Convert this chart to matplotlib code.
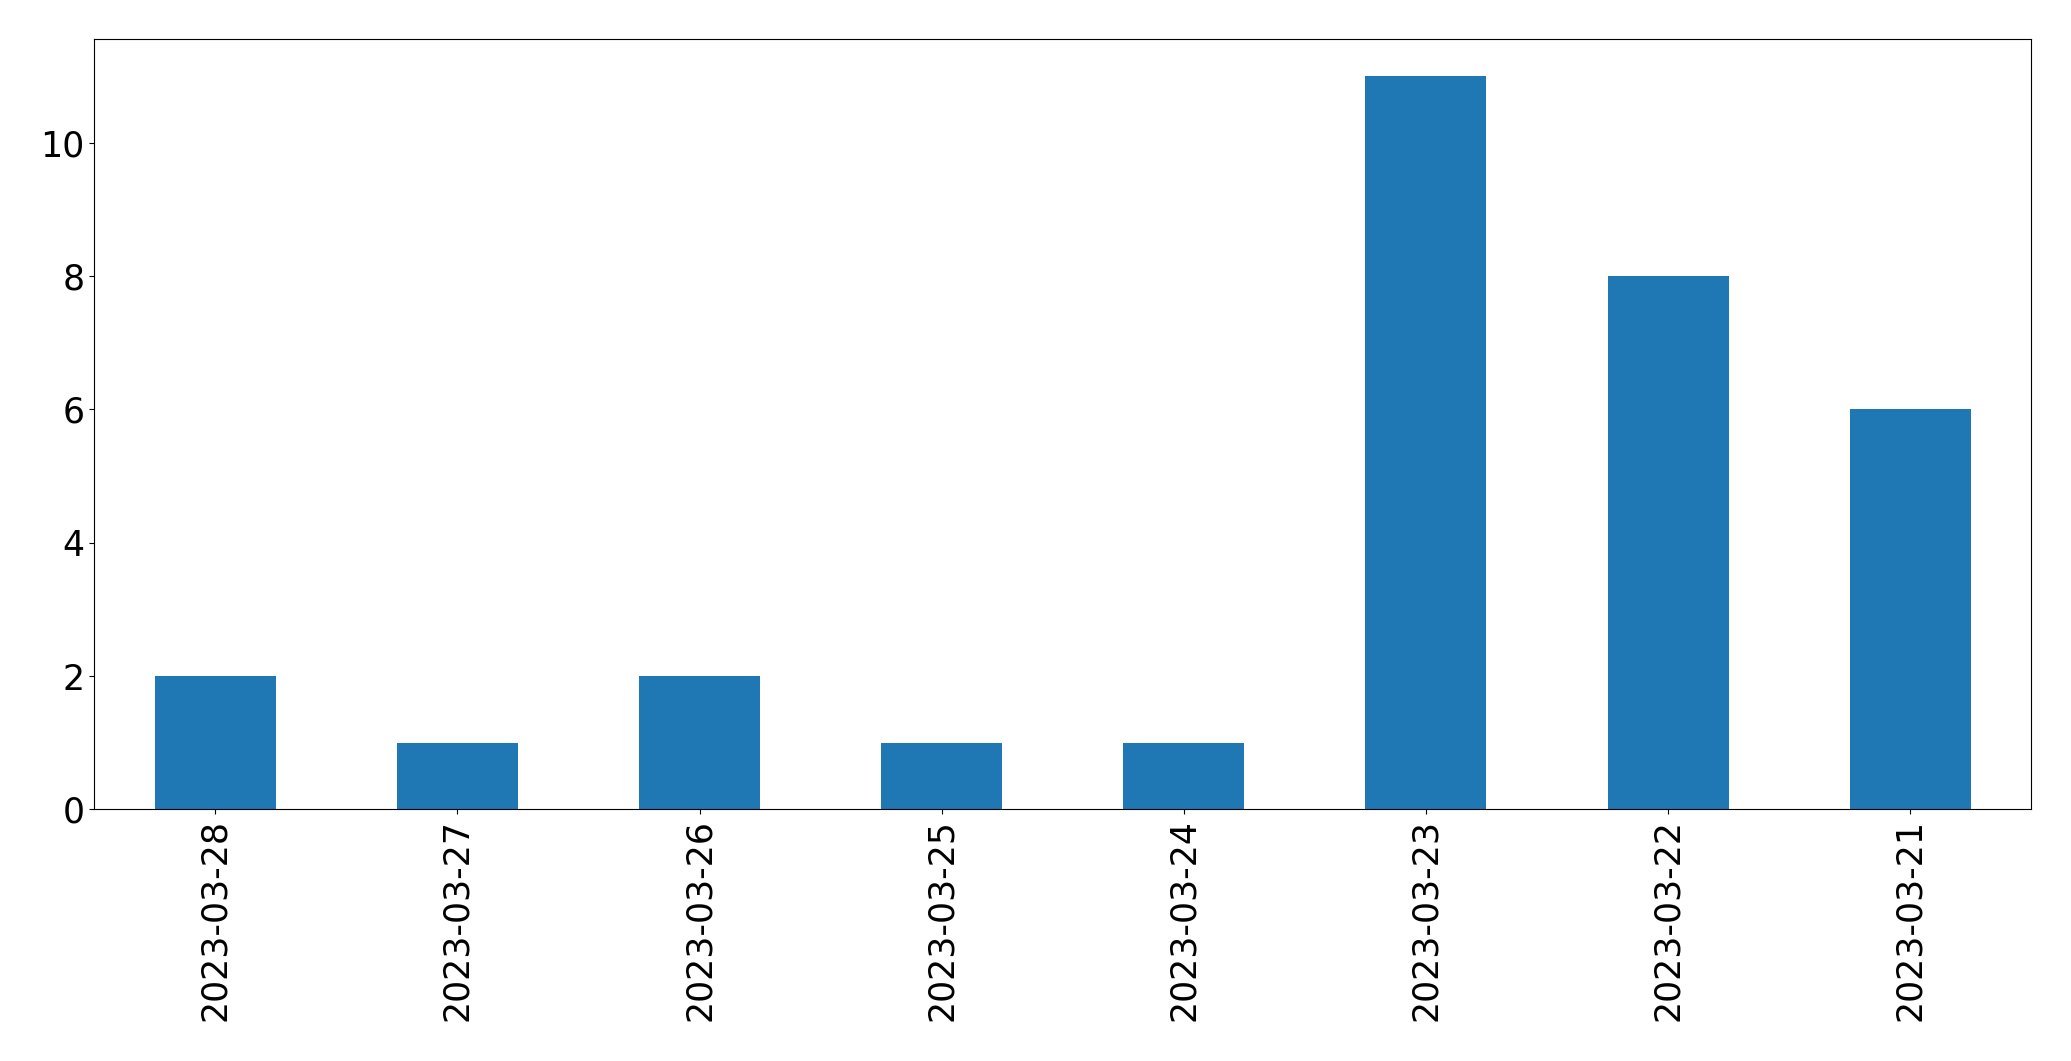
import matplotlib
matplotlib.use("Agg")
import matplotlib.pyplot as plt

dates = ["2023-03-28", "2023-03-27", "2023-03-26", "2023-03-25",
         "2023-03-24", "2023-03-23", "2023-03-22", "2023-03-21"]
counts = [2, 1, 2, 1, 1, 11, 8, 6]

fig = plt.figure(figsize=(20.71, 10.61), dpi=100)
ax = fig.add_axes([0.0455, 0.2372, 0.9353, 0.7257])
x = range(len(dates))
ax.bar(x, counts, width=0.5, color="#1f77b4")
ax.set_xlim(-0.5, len(dates) - 1 + 0.5)
ax.set_xticks(list(x))
ax.set_xticklabels(dates, rotation=90)
ax.tick_params(labelsize=25)
fig.savefig("out.png", dpi=100)
